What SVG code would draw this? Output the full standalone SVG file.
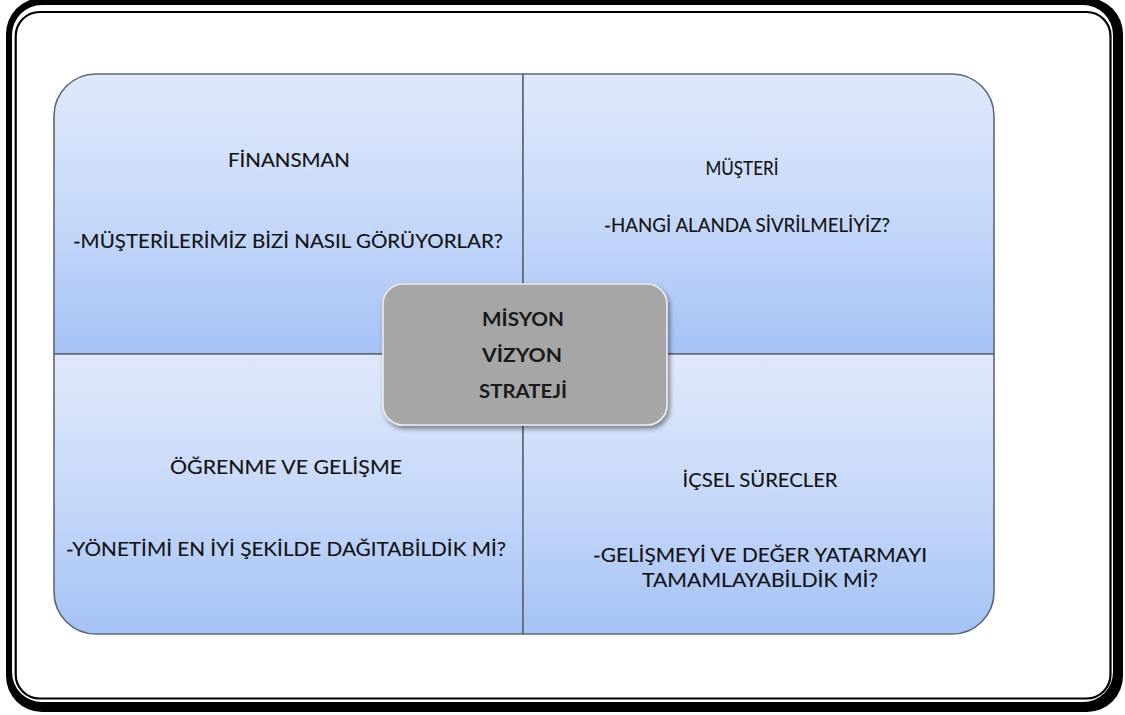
<svg xmlns="http://www.w3.org/2000/svg" width="1125" height="715" viewBox="0 0 1125 715">
  <defs>
    <linearGradient id="quadFill" x1="0" y1="0" x2="0" y2="1">
      <stop offset="0" stop-color="#e0e9fb"/>
      <stop offset="0.5" stop-color="#c7d9f9"/>
      <stop offset="1" stop-color="#a5c2f6"/>
    </linearGradient>
    <filter id="soft" x="-10%" y="-10%" width="130%" height="140%">
      <feDropShadow dx="2" dy="3" stdDeviation="2.5" flood-color="#000" flood-opacity="0.45"/>
    </filter>
    <style>
      .quad { fill: url(#quadFill); stroke: #5c6878; stroke-width: 1.6; }
      .lbl { font-family: Lato, "Open Sans", "Liberation Sans", sans-serif; font-size: 18.5px; fill: #111111; stroke: #111111; stroke-width: 0.12; text-anchor: middle; }
      .core { font-family: Lato, "Open Sans", "Liberation Sans", sans-serif; font-size: 19.5px; font-weight: bold; fill: #1a1a1a; text-anchor: middle; }
    </style>
  </defs>

  <rect width="1125" height="715" fill="#ffffff"/>

  <!-- page frame: heavy outer band plus thin inner rule -->
  <g id="frame">
    <rect x="6" y="-2" width="1117" height="714" rx="36" ry="36" fill="#000000"/>
    <rect x="12" y="5" width="1101" height="697" rx="30" ry="30" fill="#ffffff"/>
    <rect x="15.7" y="12" width="1094.8" height="686.5" rx="24" ry="24" fill="none" stroke="#000000" stroke-width="2.2"/>
  </g>

  <!-- four perspective quadrants -->
  <g id="finansman">
    <path class="quad" d="M54,354 V116 A42,42 0 0 1 96,74 H523 V354 Z"/>
    <text class="lbl" x="289" y="167" textLength="122" lengthAdjust="spacingAndGlyphs">FİNANSMAN</text>
    <text class="lbl" x="288" y="248" textLength="430" lengthAdjust="spacingAndGlyphs">-MÜŞTERİLERİMİZ BİZİ NASIL GÖRÜYORLAR?</text>
  </g>

  <g id="musteri">
    <path class="quad" d="M523,74 H952 A42,42 0 0 1 994,116 V354 H523 Z"/>
    <text class="lbl" x="742" y="175" textLength="73" lengthAdjust="spacingAndGlyphs">MÜŞTERİ</text>
    <text class="lbl" x="747" y="232" textLength="286" lengthAdjust="spacingAndGlyphs">-HANGİ ALANDA SİVRİLMELİYİZ?</text>
  </g>

  <g id="ogrenme">
    <path class="quad" d="M54,354 H523 V634 H96 A42,42 0 0 1 54,592 Z"/>
    <text class="lbl" x="286" y="474" textLength="232" lengthAdjust="spacingAndGlyphs">ÖĞRENME VE GELİŞME</text>
    <text class="lbl" x="286" y="556" textLength="440" lengthAdjust="spacingAndGlyphs">-YÖNETİMİ EN İYİ ŞEKİLDE DAĞITABİLDİK Mİ?</text>
  </g>

  <g id="icsel">
    <path class="quad" d="M523,354 H994 V592 A42,42 0 0 1 952,634 H523 Z"/>
    <text class="lbl" x="760" y="487" textLength="155" lengthAdjust="spacingAndGlyphs">İÇSEL SÜRECLER</text>
    <text class="lbl" x="760" y="562" textLength="334" lengthAdjust="spacingAndGlyphs">-GELİŞMEYİ VE DEĞER YATARMAYI</text>
    <text class="lbl" x="760" y="587" textLength="236" lengthAdjust="spacingAndGlyphs">TAMAMLAYABİLDİK Mİ?</text>
  </g>

  <!-- central hub -->
  <g id="merkez">
    <rect x="383" y="284" width="284" height="141" rx="20" ry="20" fill="#a6a6a6" stroke="#ececec" stroke-width="1.6" filter="url(#soft)"/>
    <text class="core" x="523" y="326" textLength="82" lengthAdjust="spacingAndGlyphs">MİSYON</text>
    <text class="core" x="522" y="362" textLength="80" lengthAdjust="spacingAndGlyphs">VİZYON</text>
    <text class="core" x="523" y="398" textLength="88" lengthAdjust="spacingAndGlyphs">STRATEJİ</text>
  </g>

  <g id="connectors"/>
</svg>
